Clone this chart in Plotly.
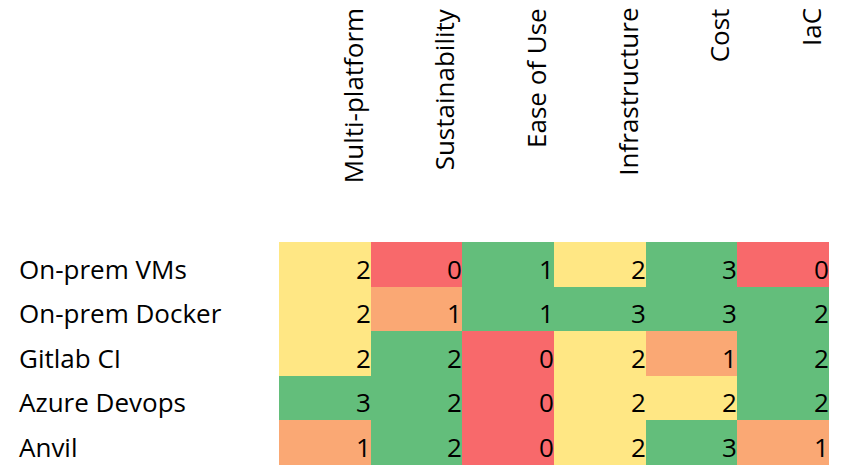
import plotly.graph_objects as go

tools = ["On-prem VMs", "On-prem Docker", "Gitlab CI", "Azure Devops", "Anvil"]
criteria = ["Multi-platform", "Sustainability", "Ease of Use", "Infrastructure", "Cost", "IaC"]

scores = [
    [2, 0, 1, 2, 3, 0],
    [2, 1, 1, 3, 3, 2],
    [2, 2, 0, 2, 1, 2],
    [3, 2, 0, 2, 2, 2],
    [1, 2, 0, 2, 3, 1],
]

# conditional-format colour level per cell (0 red, 1 orange, 2 yellow, 3 green)
color_levels = [
    [2, 0, 3, 2, 3, 0],
    [2, 1, 3, 3, 3, 3],
    [2, 3, 0, 2, 1, 3],
    [3, 3, 0, 2, 2, 3],
    [1, 3, 0, 2, 3, 1],
]

RED, ORANGE, YELLOW, GREEN = "#F8696B", "#FAA874", "#FFE784", "#63BE7B"
colorscale = [
    [0.0, RED], [0.25, RED],
    [0.25, ORANGE], [0.5, ORANGE],
    [0.5, YELLOW], [0.75, YELLOW],
    [0.75, GREEN], [1.0, GREEN],
]

FONT = "Open Sans"
FS = 26

fig = go.Figure(
    go.Heatmap(
        z=color_levels,
        x=list(range(len(criteria))),
        y=list(range(len(tools))),
        colorscale=colorscale,
        zmin=-0.5,
        zmax=3.5,
        showscale=False,
        hoverinfo="skip",
        xgap=0,
        ygap=0,
    )
)

annotations = []
for i, row in enumerate(scores):
    for j, v in enumerate(row):
        annotations.append(dict(
            x=j + 0.5, y=i + 0.5, xref="x", yref="y",
            text=str(v), showarrow=False,
            xanchor="right", yanchor="bottom",
            font=dict(family=FONT, size=FS, color="#000000"),
            borderpad=0, xshift=1, yshift=-1,
        ))

for i, name in enumerate(tools):
    annotations.append(dict(
        x=0, y=i + 0.5, xref="paper", yref="y",
        text=name, showarrow=False,
        xanchor="left", yanchor="bottom",
        font=dict(family=FONT, size=FS, color="#000000"),
        borderpad=0, xshift=-261, yshift=-1,
    ))

for j, name in enumerate(criteria):
    annotations.append(dict(
        x=j + 0.5, y=1, xref="x", yref="paper",
        text=name, showarrow=False, textangle=-90,
        xanchor="right", yanchor="top",
        font=dict(family=FONT, size=FS, color="#000000"),
        borderpad=0, xshift=1, yshift=235,
    ))

fig.update_layout(
    width=842,
    height=465,
    margin=dict(l=279, r=13, t=242, b=0, pad=0),
    paper_bgcolor="white",
    plot_bgcolor="white",
    xaxis=dict(range=[-0.5, 5.5], visible=False, fixedrange=True),
    yaxis=dict(range=[4.5, -0.5], visible=False, fixedrange=True),
    annotations=annotations,
    showlegend=False,
)

fig.write_html("out.html")
